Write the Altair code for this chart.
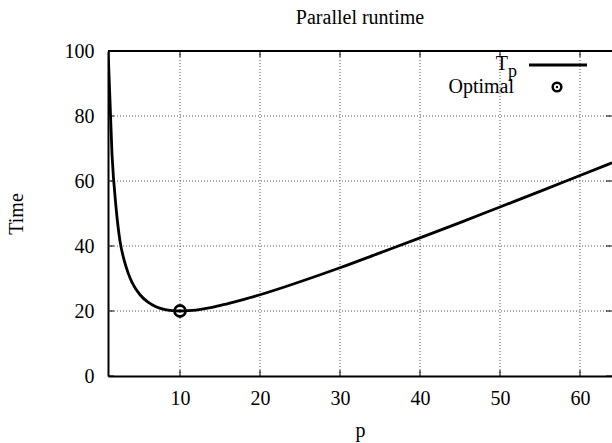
import altair as alt
import pandas as pd

# values
p_vals = [1, 1.5, 2, 2.5, 3, 3.5, 4, 5, 6, 7, 8, 9, 10, 11, 12, 14, 16, 18, 20,
          25, 30, 35, 40, 45, 50, 55, 60, 64]
t_vals = [101, 68.2, 52, 41.5, 35.8, 31.8, 28.8, 25, 22.7, 21.3, 20.5, 20.1, 20,
          20.1, 20.3, 21.1, 22.3, 23.6, 25, 29, 33.3, 37.9, 42.5, 47.2, 52,
          56.8, 61.7, 65.6]
opt_p = [10]
opt_t = [20]
x_ticks = [10, 20, 30, 40, 50, 60]
y_ticks = [0, 20, 40, 60, 80, 100]

FONT = "Liberation Serif"
FS = 20
W, H = 504, 325

curve = pd.DataFrame({"p": p_vals, "T": t_vals})
opt = pd.DataFrame({"p": opt_p, "T": opt_t})
xt = pd.DataFrame({"p": x_ticks})
yt = pd.DataFrame({"T": y_ticks})

xs = alt.Scale(domain=[1, 64], nice=False, zero=False)
ys = alt.Scale(domain=[0, 100], nice=False)

grid_style = dict(color="#555555", strokeWidth=1, strokeDash=[1, 2])

base_axes = alt.Chart(curve).mark_line(opacity=0).encode(
    x=alt.X("p:Q", scale=xs, title="p",
            axis=alt.Axis(values=x_ticks, grid=False, ticks=False,
                          domainColor="black", domainWidth=2,
                          labelFont=FONT, labelFontSize=FS, labelColor="black",
                          labelPadding=12, titleFont=FONT, titleFontSize=FS,
                          titleFontWeight="normal", titleColor="black",
                          titlePadding=12)),
    y=alt.Y("T:Q", scale=ys, title="Time",
            axis=alt.Axis(values=y_ticks, grid=False, ticks=False,
                          domainColor="black", domainWidth=2,
                          labelFont=FONT, labelFontSize=FS, labelColor="black",
                          labelPadding=14, titleFont=FONT, titleFontSize=FS,
                          titleFontWeight="normal", titleColor="black",
                          titlePadding=38)),
)

vgrid = alt.Chart(xt).mark_rule(**grid_style).encode(
    x=alt.X("p:Q", scale=xs), y=alt.value(0), y2=alt.value(H))
hgrid = alt.Chart(yt[yt["T"] > 0]).mark_rule(**grid_style).encode(
    y=alt.Y("T:Q", scale=ys), x=alt.value(0), x2=alt.value(W))

# inward ticks
tick_b = alt.Chart(xt).mark_rule(color="black", strokeWidth=1).encode(
    x=alt.X("p:Q", scale=xs), y=alt.value(H), y2=alt.value(H - 6))
tick_t = alt.Chart(xt).mark_rule(color="black", strokeWidth=1).encode(
    x=alt.X("p:Q", scale=xs), y=alt.value(0), y2=alt.value(6))
tick_l = alt.Chart(yt).mark_rule(color="black", strokeWidth=1).encode(
    y=alt.Y("T:Q", scale=ys), x=alt.value(0), x2=alt.value(6))
tick_r = alt.Chart(yt).mark_rule(color="black", strokeWidth=1).encode(
    y=alt.Y("T:Q", scale=ys), x=alt.value(W), x2=alt.value(W - 6))

top_border = alt.Chart(xt).mark_rule(color="black", strokeWidth=2).encode(
    x=alt.value(0), x2=alt.value(W), y=alt.value(0))

line = alt.Chart(curve).mark_line(color="black", strokeWidth=2.8,
                                  interpolate="monotone", clip=True).encode(
    x=alt.X("p:Q", scale=xs), y=alt.Y("T:Q", scale=ys))

pt = alt.Chart(opt).mark_point(shape="circle", filled=False, color="black",
                               opacity=1, strokeWidth=2.8, size=120).encode(
    x=alt.X("p:Q", scale=xs), y=alt.Y("T:Q", scale=ys))

# legend
leg_df = pd.DataFrame({"k": [0]})
leg_T = alt.Chart(leg_df).mark_text(text="T", font=FONT, fontSize=FS,
                                    align="right", baseline="alphabetic",
                                    color="black").encode(
    x=alt.value(400), y=alt.value(19))
leg_p = alt.Chart(leg_df).mark_text(text="p", font=FONT, fontSize=18,
                                    align="right", baseline="alphabetic",
                                    color="black").encode(
    x=alt.value(409), y=alt.value(26))
leg_line = alt.Chart(leg_df).mark_rule(color="black", strokeWidth=2.8).encode(
    x=alt.value(421), x2=alt.value(479), y=alt.value(14))
leg_opt = alt.Chart(leg_df).mark_text(text="Optimal", font=FONT, fontSize=FS,
                                      align="right", baseline="alphabetic",
                                      color="black").encode(
    x=alt.value(406), y=alt.value(42))
leg_circ = alt.Chart(leg_df).mark_point(shape="circle", filled=False,
                                        color="black", opacity=1,
                                        strokeWidth=2.5, size=75).encode(
    x=alt.value(449), y=alt.value(36))
leg_dot = alt.Chart(leg_df).mark_point(shape="circle", filled=True,
                                       color="black", opacity=1,
                                       size=6).encode(
    x=alt.value(449), y=alt.value(36))

chart = alt.layer(
    base_axes, vgrid, hgrid, tick_b, tick_t, tick_l, tick_r, top_border,
    line, pt, leg_T, leg_p, leg_line, leg_opt, leg_circ, leg_dot
).properties(
    width=W, height=H,
    title=alt.TitleParams("Parallel runtime", font=FONT, fontSize=FS,
                          fontWeight="normal", color="black", offset=13,
                          anchor="middle"),
    autosize=alt.AutoSizeParams(type="none"),
    padding={"left": 108, "top": 51, "right": 0, "bottom": 67},
).configure_view(stroke=None).configure(background="white")

chart.save("out.html", embed_options={"renderer": "svg", "actions": False})
